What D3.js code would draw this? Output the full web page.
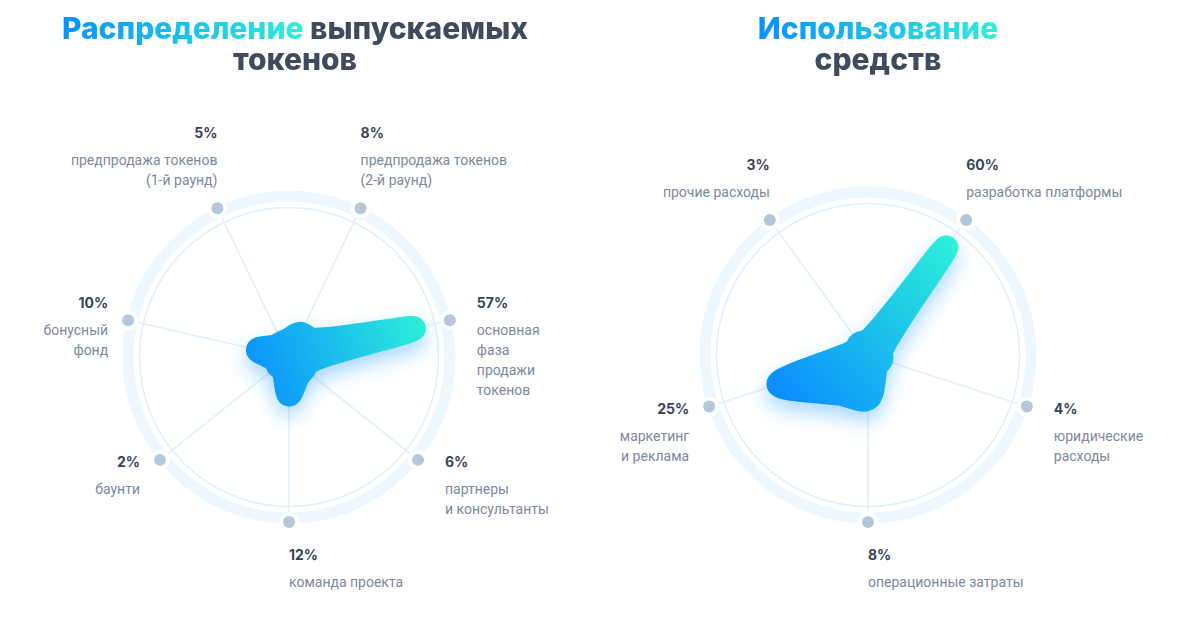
<!DOCTYPE html>
<html><head><meta charset="utf-8">
<script src="https://cdn.jsdelivr.net/npm/d3@7"></script>
<style>
body{margin:0;background:#fff;}
#wrap{position:relative;width:1182px;height:625px;}
svg{display:block;position:absolute;left:0;top:0}
.ttl{position:absolute;top:12.6px;width:600px;text-align:center;font-family:Inter;font-weight:800;font-size:30px;line-height:31px;white-space:pre-line}
.ttl span{-webkit-background-clip:text;background-clip:text;color:transparent;-webkit-box-decoration-break:slice;box-decoration-break:slice}
</style>
</head><body><div id="wrap"><svg id="c" width="1182" height="625"></svg></div>
<script>
// ---- data ----
const tokenCategories = ["предпродажа токенов|(1-й раунд)", "предпродажа токенов|(2-й раунд)", "основная|фаза|продажи|токенов", "партнеры|и консультанты", "команда проекта", "баунти", "бонусный|фонд"];
const tokenValues = [5, 8, 57, 6, 12, 2, 10];
const fundsCategories = ["прочие расходы", "разработка платформы", "юридические|расходы", "операционные затраты", "маркетинг|и реклама"];
const fundsValues = [3, 60, 4, 8, 25];
const tokenTitle = ["Распределение", " выпускаемых", "токенов"];
const fundsTitle = ["Использование", "", "средств"];

// ---- style ----
const C = {dark:"#404a5d", pct:"#3a4458", desc:"#7c889f", band:"#eef6fe", thin:"#e0effc", spoke:"#e0effc", dot:"#b4c6d7", blue:"#0a8dff", cyan:"#2cf0d8"};
const STROKE = 24, CORE = 14, WAIST = 1.1;
const svg = d3.select("#c");
const defs = svg.append("defs");
const blur = defs.append("filter").attr("id","glow").attr("x","-50%").attr("y","-50%").attr("width","200%").attr("height","200%");
blur.append("feGaussianBlur").attr("stdDeviation", 10);

const ctx = document.createElement("canvas").getContext("2d");
ctx.font = "800 30px Inter";
function title(cx, words) {
  const w1 = ctx.measureText(words[0]).width;
  const d = d3.select("#wrap").append("div").attr("class","ttl").style("left", (cx - 300) + "px");
  d.append("span")
    .style("background-image", `linear-gradient(90deg, #0791ff 0px, #2eeed6 ${w1}px, ${C.dark} ${w1}px, ${C.dark} 100%)`)
    .text(words[0] + words[1] + "\n" + words[2]);
}

function radar(cx, cy, R, cats, vals, rScale, id, gx) {
  const n = cats.length;
  const angle = d3.scaleLinear().domain([0, n]).range([-Math.PI / n, 2 * Math.PI - Math.PI / n]);
  const g = svg.append("g").attr("transform", `translate(${cx},${cy})`);
  g.append("circle").attr("r", R - 4).attr("fill","none").attr("stroke", C.band).attr("stroke-width", 11);
  g.append("circle").attr("r", R - 15.5).attr("fill","none").attr("stroke", C.thin).attr("stroke-width", 1.6);
  const idx = d3.range(n);
  g.selectAll("line.sp").data(idx).join("line").attr("x1",0).attr("y1",0)
    .attr("x2", i => R*Math.sin(angle(i))).attr("y2", i => -R*Math.cos(angle(i)))
    .attr("stroke", C.spoke).attr("stroke-width", 1.6);
  g.selectAll("circle.halo").data(idx).join("circle").attr("cx", i => R*Math.sin(angle(i))).attr("cy", i => -R*Math.cos(angle(i)))
    .attr("r", 10).attr("fill", "#fff");
  g.selectAll("circle.dot").data(idx).join("circle").attr("cx", i => R*Math.sin(angle(i))).attr("cy", i => -R*Math.cos(angle(i)))
    .attr("r", 6).attr("fill", C.dot);

  // blob: data points on spokes, with a waist between neighbouring spokes, over a small core
  const pts = [];
  idx.forEach(i => {
    const j = (i + 1) % n;
    pts.push({a: angle(i), r: Math.max(CORE, rScale(vals[i]))});
    pts.push({a: angle(i + 0.5), r: Math.max(CORE, WAIST * rScale(Math.min(vals[i], vals[j])))});
  });
  const line = d3.lineRadial().angle(d => d.a).radius(d => d.r).curve(d3.curveCatmullRomClosed.alpha(0.5));
  const gr = defs.append("linearGradient").attr("id", id).attr("gradientUnits","userSpaceOnUse")
    .attr("x1", gx[0]).attr("y1", gx[1]).attr("x2", gx[2]).attr("y2", gx[3]);
  gr.append("stop").attr("offset", 0).attr("stop-color", C.blue);
  gr.append("stop").attr("offset", 1).attr("stop-color", C.cyan);
  g.append("path").attr("d", line(pts)).attr("fill", "#3aa6ff").attr("stroke", "#3aa6ff").attr("stroke-width", STROKE)
    .attr("stroke-linejoin","round").attr("opacity", 0.45).attr("transform","translate(0,9)").attr("filter","url(#glow)");
  g.append("path").attr("d", line(pts)).attr("fill", `url(#${id})`).attr("stroke", `url(#${id})`).attr("stroke-width", STROKE)
    .attr("stroke-linejoin","round");

  // labels
  idx.forEach(i => {
    const a = angle(i), sx = Math.sin(a), cs = Math.cos(a);
    const px = R*sx, py = -R*cs;
    const lines = cats[i].split("|");
    let x, pctY, anchor;
    if (cs > 0.8) { anchor = sx > 0 ? "start" : "end"; x = px; pctY = py - 28 - 20*(lines.length-1) - 27; }
    else if (cs < -0.95) { anchor = "start"; x = px; pctY = py + 33; }
    else { anchor = sx > 0 ? "start" : "end"; x = px + (sx > 0 ? 27 : -20); pctY = py + (cs > 0 ? -17 : 2); }
    const lg = g.append("g").attr("text-anchor", anchor);
    lg.append("text").attr("x", x).attr("y", pctY).attr("dy","0.35em").attr("fill", C.pct)
      .style("font-family","Inter").style("font-weight",700).style("font-size","14px").text(vals[i] + "%");
    lines.forEach((l, k) => lg.append("text").attr("x", x).attr("y", pctY + 27 + 20*k).attr("dy","0.35em").attr("fill", C.desc)
      .style("font-family","Roboto").style("font-size","14px").text(l));
  });
}

title(295, tokenTitle);
title(878, fundsTitle);
const tokenR = d3.scalePow().exponent(0.667).domain([0, 60]).range([-STROKE/2, 145 - STROKE/2]);
const fundsR = d3.scaleLog().domain([3, 60]).range([0, 145 - STROKE/2]);
radar(289, 357, 165, tokenCategories, tokenValues, tokenR, "bg1", [-40, 40, 140, -30]);
radar(868, 355, 167, fundsCategories, fundsValues, fundsR, "bg2", [-90, 40, 90, -110]);
</script></body></html>
